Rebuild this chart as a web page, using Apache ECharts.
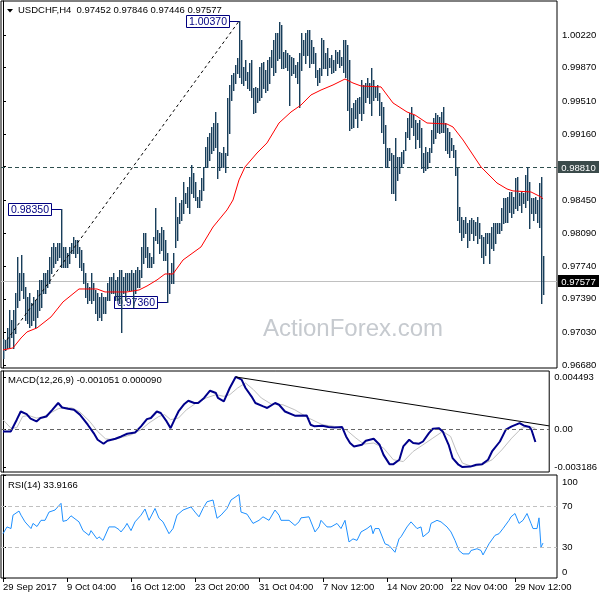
<!DOCTYPE html>
<html><head><meta charset="utf-8">
<script src="https://cdn.jsdelivr.net/npm/echarts@6/dist/echarts.min.js"></script>
<style>html,body{margin:0;padding:0;background:#fff}#c{width:600px;height:600px}</style>
</head><body><div id="c"></div>
<script>
// ---- data ----
const highs = [
0.9696,0.9695,0.9708,0.9727,0.9716,0.9727,0.9745,0.9784,0.9767,0.9786,
0.9767,0.9752,0.9741,0.9745,0.9735,0.9741,0.9738,0.9749,0.9759,0.9759,
0.9767,0.9767,0.9770,0.9784,0.9795,0.9799,0.9795,0.9799,0.9799,0.9835,
0.9795,0.9795,0.9788,0.9795,0.9799,0.9805,0.9802,0.9802,0.9795,0.9791,
0.9778,0.9767,0.9756,0.9752,0.9767,0.9756,0.9749,0.9745,0.9741,0.9745,
0.9741,0.9741,0.9756,0.9762,0.9762,0.9767,0.9759,0.9762,0.9770,0.9770,
0.9762,0.9767,0.9767,0.9767,0.9770,0.9767,0.9770,0.9773,0.9770,0.9795,
0.9810,0.9810,0.9795,0.9788,0.9784,0.9805,0.9837,0.9813,0.9810,0.9816,
0.9813,0.9802,0.9788,0.9767,0.9778,0.9788,0.9848,0.9827,0.9842,0.9845,
0.9864,0.9853,0.9859,0.9870,0.9883,0.9874,0.9864,0.9848,0.9856,0.9869,
0.9881,0.9902,0.9913,0.9917,0.9923,0.9928,0.9940,0.9928,0.9897,0.9896,
0.9902,0.9896,0.9955,0.9969,0.9979,0.9981,0.9990,0.9997,1.0037,1.0017,
0.9988,0.9995,0.9982,0.9992,0.9995,0.9965,0.9966,0.9965,0.9988,0.9992,
0.9993,0.9985,0.9995,0.9998,1.0006,1.0017,1.0024,1.0024,1.0036,1.0033,
1.0004,1.0006,1.0003,1.0001,0.9998,0.9997,0.9990,0.9993,1.0003,1.0024,
1.0017,1.0024,1.0028,1.0028,1.0017,1.0009,1.0003,0.9985,0.9987,1.0019,
1.0017,1.0003,1.0008,0.9997,1.0001,0.9995,1.0006,1.0004,1.0006,0.9998,
1.0017,1.0017,1.0011,0.9995,0.9944,0.9949,0.9952,0.9955,0.9956,0.9974,
0.9969,0.9971,0.9976,0.9971,0.9987,0.9974,0.9966,0.9969,0.9960,0.9950,
0.9945,0.9926,0.9901,0.9901,0.9896,0.9893,0.9912,0.9891,0.9891,0.9897,
0.9899,0.9918,0.9933,0.9938,0.9945,0.9936,0.9931,0.9928,0.9931,0.9922,
0.9896,0.9902,0.9897,0.9901,0.9920,0.9933,0.9938,0.9936,0.9934,0.9940,
0.9945,0.9928,0.9922,0.9918,0.9912,0.9904,0.9899,0.9879,0.9838,0.9827,
0.9824,0.9827,0.9820,0.9824,0.9826,0.9824,0.9821,0.9827,0.9820,0.9808,
0.9805,0.9810,0.9810,0.9810,0.9816,0.9820,0.9820,0.9820,0.9820,0.9837,
0.9847,0.9847,0.9848,0.9854,0.9854,0.9848,0.9869,0.9870,0.9853,0.9854,
0.9853,0.9872,0.9881,0.9864,0.9847,0.9847,0.9848,0.9845,0.9863,0.9870,
0.97846];
const lows = [
0.9675,0.9684,0.9686,0.9687,0.9698,0.9686,0.9702,0.9730,0.9738,0.9749,
0.9740,0.9716,0.9713,0.9709,0.9711,0.9716,0.9709,0.9720,0.9727,0.9730,
0.9745,0.9745,0.9752,0.9756,0.9767,0.9773,0.9778,0.9781,0.9784,0.9773,
0.9773,0.9773,0.9773,0.9778,0.9788,0.9788,0.9784,0.9788,0.9773,0.9770,
0.9756,0.9741,0.9735,0.9738,0.9735,0.9738,0.9724,0.9716,0.9720,0.9716,
0.9724,0.9724,0.9738,0.9738,0.9745,0.9745,0.9738,0.9738,0.9735,0.9703,
0.9745,0.9738,0.9749,0.9749,0.9749,0.9730,0.9745,0.9752,0.9752,0.9762,
0.9778,0.9784,0.9773,0.9773,0.9773,0.9778,0.9802,0.9799,0.9788,0.9791,
0.9781,0.9781,0.9736,0.9745,0.9756,0.9756,0.9795,0.9802,0.9820,0.9824,
0.9831,0.9842,0.9838,0.9831,0.9853,0.9848,0.9845,0.9838,0.9838,0.9845,
0.9856,0.9881,0.9881,0.9888,0.9896,0.9899,0.9902,0.9869,0.9877,0.9881,
0.9881,0.9875,0.9893,0.9917,0.9952,0.9963,0.9971,0.9981,0.9977,0.9971,
0.9969,0.9974,0.9965,0.9963,0.9956,0.9938,0.9940,0.9950,0.9952,0.9956,
0.9965,0.9961,0.9963,0.9971,0.9988,0.9979,0.9982,0.9995,0.9997,0.9987,
0.9987,0.9988,0.9985,0.9947,0.9979,0.9981,0.9977,0.9971,0.9945,0.9985,
1.0001,0.9992,1.0001,0.9988,0.9992,0.9992,0.9977,0.9969,0.9972,0.9979,
0.9987,0.9987,0.9979,0.9988,0.9981,0.9982,0.9985,0.9992,0.9988,0.9990,
0.9982,0.9977,0.9942,0.9920,0.9922,0.9923,0.9933,0.9923,0.9938,0.9931,
0.9938,0.9950,0.9956,0.9949,0.9936,0.9952,0.9956,0.9952,0.9936,0.9918,
0.9906,0.9881,0.9881,0.9888,0.9853,0.9853,0.9845,0.9867,0.9874,0.9881,
0.9885,0.9899,0.9913,0.9910,0.9923,0.9915,0.9901,0.9910,0.9902,0.9879,
0.9875,0.9877,0.9879,0.9886,0.9897,0.9906,0.9912,0.9918,0.9917,0.9918,
0.9918,0.9899,0.9896,0.9891,0.9899,0.9891,0.9872,0.9824,0.9811,0.9802,
0.9805,0.9810,0.9795,0.9802,0.9810,0.9802,0.9808,0.9799,0.9804,0.9784,
0.9778,0.9786,0.9799,0.9778,0.9794,0.9791,0.9799,0.9810,0.9810,0.9813,
0.9820,0.9821,0.9821,0.9832,0.9827,0.9831,0.9837,0.9834,0.9840,0.9832,
0.9842,0.9838,0.9845,0.9815,0.9831,0.9824,0.9831,0.9821,0.9816,0.9735,
0.97446];
const lastOpen = 0.97452;
const lastClose = 0.97577;

const maIdx = [0,5,9,12,17,24,30,38,47,51, 62,68,72,77,81,85,90,99,105,112, 115,118,121,127,132,138,144,149,154,159, 165,171,175,179,189,195,202,206,212,222, 225,230,239,247,252,255,264,269,270];
const maVal = [0.96842,0.96863,0.96970,0.97035,0.97078,0.97196,0.97357,0.97496,0.97496,0.97464, 0.97464,0.97485,0.97528,0.97593,0.97657,0.97657,0.97807,0.97947,0.98161,0.98344, 0.98451,0.98666,0.98805,0.98955,0.99063,0.99277,0.99395,0.99470,0.99578,0.99631, 0.99685,0.99749,0.99706,0.99674,0.99664,0.99492,0.99395,0.99363,0.99277,0.99266, 0.99234,0.99095,0.98805,0.98633,0.98569,0.98548,0.98537,0.98483,0.98462];

const macdIdx = [0,4,7,9,12,14,17,19,22,25, 28,30,33,36,39,43,46,48,51,53, 57,60,63,67,70,73,75,78,80,83, 85,87,89,92,94,97,99,102,105,108, 109,112,115,118,121,123,126,128,132,134, 138,140,143,148,154,156,158,162,165,168, 172,174,176,178,182,184,188,191,193,196, 198,201,203,206,208,211,213,216,218,221, 223,226,228,231,233,237,240,243,246,248, 252,255,258,262,264,267,268,270];
const macdVal = [-0.00015,-0.00015,0.00085,0.00155,0.00133,0.00094,0.00070,0.00099,0.00112,0.00169, 0.00227,0.00189,0.00178,0.00169,0.00128,0.00042,-0.00029,-0.00086,-0.00120,-0.00095, -0.00078,-0.00058,-0.00035,-0.00024,0.00028,0.00090,0.00099,0.00155,0.00142,0.00070, 0.00013,0.00085,0.00155,0.00219,0.00246,0.00227,0.00227,0.00270,0.00332,0.00312, 0.00270,0.00241,0.00355,0.004493,0.00426,0.00355,0.00284,0.00227,0.00198,0.00185, 0.00227,0.00212,0.00155,0.00119,0.00121,0.00042,0.00028,0.00033,0.00022,0.00019, 0.00022,-0.00058,-0.00114,-0.00143,-0.00129,-0.00095,-0.00078,-0.00129,-0.00215,-0.00294, -0.00294,-0.00257,-0.00143,-0.00086,-0.00114,-0.00120,-0.00101,-0.00029,0.00008,0.00013, -0.00015,-0.00129,-0.00242,-0.00299,-0.003186,-0.00315,-0.00299,-0.00294,-0.00257,-0.00186, -0.00101,0.00000,0.00028,0.00056,0.00036,0.00022,-0.00001,-0.001051];

const sigIdx = [0,4,7,10,13,17,20,23,28,31, 35,39,44,48,52,56,60,65,70,74, 79,82,85,89,93,98,103,108,112,115, 119,123,127,131,136,142,148,155,162,168, 174,179,183,188,193,198,203,208,213,218, 223,227,230,233,238,243,248,253,258,263, 267,270];
const sigVal = [0.00085,0.00013,0.00017,0.00112,0.00121,0.00099,0.00105,0.00133,0.00178,0.00189, 0.00185,0.00151,0.00070,-0.00015,-0.00078,-0.00086,-0.00067,-0.00044,-0.00001,0.00056, 0.00112,0.00128,0.00085,0.00099,0.00169,0.00227,0.00270,0.00298,0.00284,0.00298, 0.00355,0.00398,0.00341,0.00270,0.00219,0.00212,0.00169,0.00099,0.00042,0.00028, -0.00001,-0.00072,-0.00123,-0.00114,-0.00157,-0.00257,-0.00272,-0.00186,-0.00129,-0.00072, -0.00015,-0.00058,-0.00186,-0.00285,-0.00315,-0.00299,-0.00257,-0.00172,-0.00072,0.00013, 0.00028,0.000090];

const rsiIdx = [0,2,4,5,8,9,11,14,15,17, 19,21,23,26,29,30,32,34,38,40, 43,44,47,48,50,53,56,58,59,61, 62,64,66,69,71,73,76,78,80,83, 85,87,90,94,96,98,100,102,105,107, 109,112,114,118,119,122,125,128,130,133, 136,138,139,143,146,148,149,153,156,158, 159,162,164,167,169,171,173,175,177,179, 182,184,185,186,188,191,193,196,198,199, 202,204,207,209,210,213,214,217,219,222, 224,226,228,230,233,234,237,239,240,243, 244,246,248,250,253,254,256,258,260,262, 264,265,267,268,269,270];
const rsiVal = [43,49.6,48,61,65,61,54.5,48,53,50, 56,56,64,66,72.5,55,56,60.4,54.5,46, 41.4,46,38,40,36.5,49.6,49.6,47,44.7,49.6, 53,46,54.5,61,67,56,67.5,58,54.5,43, 48,61,66,69,64,59.4,67.5,74,75.7,58, 61,67.5,75.7,81,64,62,53,56,59.4,56, 66,61,56,56,51,54.5,58.4,59.4,44.7,49.6, 56,49.6,49.6,53,48,56,35,38,36.5,44.7, 48,51,43,48,48,33.2,31.6,25,38,40, 49.6,54.5,48,49.6,40,44.7,53,56,54.5,49.6, 44.7,36.5,26.7,23.4,23.4,26.7,28.4,26.7,22.4,33.2, 31.6,41.4,43,48,56,59.4,62.6,53,56,62.6, 53,48,48,58.4,30,33.9166];

const priceTicks = [1.00220,0.99870,0.99510,0.99160,0.98810,0.98450,0.98090,0.97740,0.97390,0.97030,0.96680];
const macdTicks = [0.004493,0,-0.003186];
const rsiTicks = [100,70,30,0];
const rsiLevels = [70,30];
const timeIdx = [0,32,64,96,128,160,192,224,256];
const timeLabels = ['29 Sep 2017','9 Oct 04:00','16 Oct 12:00','23 Oct 20:00','31 Oct 04:00','7 Nov 12:00','14 Nov 20:00','22 Nov 04:00','29 Nov 12:00'];
const resistance = 0.98810;
const priceLevels = [resistance, lastClose];
const swingIdx = [118,29,82];
const swingVal = [1.00370,0.98350,0.97360];
const trendIdx = [2,118];
const trendVal = [0.9695,1.0037];
const macdTrendIdx = [118,277];
const macdTrendVal = [0.004493,0.00032];

// ---- chart ----
const FONT = '"Liberation Sans", Arial, sans-serif';
const FS = 9.5;
const BAR = '#183e5a';
const LEVEL_STYLE = [
  {stroke:'#2f4f4f', dash:[4,3], box:'#3b4b4b'},
  {stroke:'#c0c0c0', dash:null, box:'#000000'}
];
const last = highs.length - 1;
const pairs = (a,b) => a.map((x,k)=>[x,b[k]]);

const chart = echarts.init(document.getElementById('c'), null, {renderer:'canvas'});
const xAx = (g, show) => ({
  gridIndex:g, type:'value', min:-1, max:277, show:show,
  splitLine:{show:false}, axisLine:{show:false},
  axisTick:{show:show, customValues:timeIdx, length:4, lineStyle:{color:'#000'}},
  axisLabel:{show:show, customValues:timeIdx, align:'left', margin:4, color:'#000', fontSize:FS, fontFamily:FONT,
    formatter:v=>timeLabels[timeIdx.indexOf(v)]}
});
const yAx = (g, min, max, ticks, fmt, rich) => ({
  gridIndex:g, type:'value', position:'right', min:min, max:max,
  splitLine:{show:false},
  axisLine:{show:true, lineStyle:{color:'#000', width:1}},
  axisTick:{show:true, customValues:ticks, length:3, lineStyle:{color:'#000'}},
  axisLabel:{customValues:ticks, formatter:fmt, margin:5, color:'#000', fontSize:FS, fontFamily:FONT, rich:rich||{}}
});
const labStyle = {fontSize:FS, fontFamily:FONT, color:'#000'};

const option = {
  animation:false,
  backgroundColor:'#fff',
  textStyle:{fontFamily:FONT},
  title:[
    {text:'USDCHF,H4  '+lastOpen.toFixed(5)+' '+highs[last].toFixed(5)+' '+lows[last].toFixed(5)+' '+lastClose.toFixed(5),
     left:18, top:5, padding:0, textStyle:{fontSize:FS, fontWeight:'normal', color:'#000', fontFamily:FONT}},
    {text:'MACD(12,26,9) '+macdVal[macdVal.length-1].toFixed(6)+' '+sigVal[sigVal.length-1].toFixed(6),
     left:8, top:375, padding:0, textStyle:{fontSize:FS, fontWeight:'normal', color:'#000', fontFamily:FONT}},
    {text:'RSI(14) '+rsiVal[rsiVal.length-1].toFixed(4),
     left:8, top:480, padding:0, textStyle:{fontSize:FS, fontWeight:'normal', color:'#000', fontFamily:FONT}}
  ],
  graphic:[
    {type:'polygon', shape:{points:[[7,9],[13,9],[10,12.5]]}, style:{fill:'#000'}},
    {type:'text', left:263, top:317, z:0, style:{text:'ActionForex.com', fill:'#c6cacf', font:'24px "Liberation Sans", Arial, sans-serif'}}
  ],
  grid:[
    {left:1, top:1, width:556, height:367, show:true, borderColor:'#000', borderWidth:1},
    {left:1, top:371, width:556, height:101, show:true, borderColor:'#000', borderWidth:1},
    {left:1, top:475, width:556, height:103, show:true, borderColor:'#000', borderWidth:1}
  ],
  xAxis:[xAx(0,false), xAx(1,false), xAx(2,true)],
  yAxis:[
    yAx(0, 0.96648, 1.00586, priceTicks, v=>v.toFixed(5)),
    yAx(1, -0.00361, 0.00500, macdTicks, v=> v===0 ? '0.00' : v.toFixed(6)),
    yAx(2, 0, 100, rsiTicks, v=> v===100 ? '{t|100}' : (v===0 ? '{b|0}' : String(v)),
        {t:Object.assign({padding:[14,0,0,0]}, labStyle), b:Object.assign({padding:[0,0,12,0]}, labStyle)})
  ],
  series:[
    { // swing labels (under the bars)
      type:'custom', xAxisIndex:0, yAxisIndex:0, z:2, silent:true, clip:false,
      data: pairs(swingIdx, swingVal), encode:{x:0, y:1},
      renderItem:(params, api)=>{
        const p = api.coord([api.value(0), api.value(1)]);
        const ax = Math.round(p[0]), ay = Math.round(p[1]);
        const bw = 43, bh = 12;
        const bx = ax - 10 - bw, by = ay - 6;
        return {type:'group', children:[
          {type:'line', shape:{x1:bx+bw, y1:ay+0.5, x2:ax, y2:ay+0.5}, style:{stroke:'#000080', lineWidth:1}},
          {type:'rect', shape:{x:bx+0.5, y:by+0.5, width:bw, height:bh}, style:{fill:'#fff', stroke:'#000080', lineWidth:1}},
          {type:'text', x:bx+bw/2+0.5, y:by+bh/2+1, style:{text:api.value(1).toFixed(5), fill:'#000080',
            font:'10.5px "Liberation Sans", Arial, sans-serif', align:'center', verticalAlign:'middle'}}
        ]};
      }
    },
    { // horizontal price levels (resistance + last price) with right-side boxes
      type:'custom', xAxisIndex:0, yAxisIndex:0, z:3, silent:true, clip:false,
      data: priceLevels.map((v,k)=>[0, v, k]), encode:{x:0, y:1},
      renderItem:(params, api)=>{
        const cs = params.coordSys;
        const k = api.value(2);
        const st = LEVEL_STYLE[k];
        const y = Math.round(api.coord([0, api.value(1)])[1]) + 0.5;
        const bx = cs.x + cs.width + 1;
        return {type:'group', children:[
          {type:'line', shape:{x1:cs.x, y1:y, x2:cs.x+cs.width, y2:y},
           style:{stroke:st.stroke, lineWidth:1, lineDash:st.dash}},
          {type:'rect', z2:10, shape:{x:bx, y:y-6.5, width:41, height:12}, style:{fill:st.box}},
          {type:'text', z2:11, x:bx+20.5, y:y+0.5, style:{text:api.value(1).toFixed(5), fill:'#fff',
            font:FS+'px '+FONT, align:'center', verticalAlign:'middle'}}
        ]};
      }
    },
    { // price bars (high-low)
      type:'custom', xAxisIndex:0, yAxisIndex:0, z:3, silent:true,
      data: highs.map((h,i)=>[i,h,lows[i]]), encode:{x:0, y:[1,2]},
      renderItem:(params, api)=>{
        const x = api.value(0);
        const t = api.coord([x, api.value(1)]);
        const b = api.coord([x, api.value(2)]);
        const px = Math.round(t[0]);
        const y0 = Math.round(t[1]), y1 = Math.round(b[1]);
        return {type:'rect', shape:{x:px, y:y0, width:1.4, height:Math.max(1, y1-y0+1)}, style:{fill:BAR}};
      }
    },
    { // moving average
      type:'line', xAxisIndex:0, yAxisIndex:0, z:4, silent:true,
      data: pairs(maIdx, maVal), symbol:'none', lineStyle:{color:'#ff0000', width:1}
    },
    { // dashed trend line
      type:'line', xAxisIndex:0, yAxisIndex:0, z:4, silent:true,
      data: pairs(trendIdx, trendVal), symbol:'none', lineStyle:{color:'#000', width:1, type:[3,3]}
    },
    { // MACD signal
      type:'line', xAxisIndex:1, yAxisIndex:1, z:3, silent:true,
      data: pairs(sigIdx, sigVal), symbol:'none', lineStyle:{color:'#c0c0c0', width:1},
      markLine:{symbol:['none','none'], silent:true, animation:false, label:{show:false},
        data:[{yAxis:0}], lineStyle:{color:'#666', type:[4,3], width:1}}
    },
    { // MACD main
      type:'line', xAxisIndex:1, yAxisIndex:1, z:4, silent:true,
      data: pairs(macdIdx, macdVal), symbol:'none', lineStyle:{color:'#00008b', width:2}
    },
    { // MACD trend line
      type:'line', xAxisIndex:1, yAxisIndex:1, z:5, silent:true,
      data: pairs(macdTrendIdx, macdTrendVal), symbol:'none', lineStyle:{color:'#000', width:1}
    },
    { // RSI
      type:'line', xAxisIndex:2, yAxisIndex:2, z:4, silent:true,
      data: pairs(rsiIdx, rsiVal), symbol:'none', lineStyle:{color:'#1e90ff', width:1},
      markLine:{symbol:['none','none'], silent:true, animation:false, label:{show:false},
        data: rsiLevels.map(v=>({yAxis:v})), lineStyle:{color:'#c0c0c0', type:[4,3], width:1}}
    }
  ]
};
chart.setOption(option);
</script>
</body></html>
